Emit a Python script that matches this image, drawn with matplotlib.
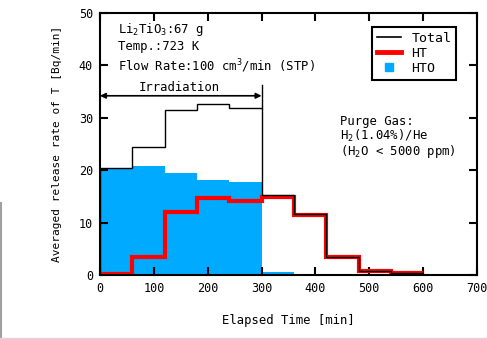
import matplotlib
matplotlib.use("Agg")
import matplotlib.pyplot as plt
from matplotlib.lines import Line2D
import numpy as np

# ---- data ----
edges = [0, 60, 120, 180, 240, 300, 360, 420, 480, 540, 600]
total = [20.5, 24.4, 31.4, 32.7, 31.9, 15.3, 11.6, 3.5, 0.8, 0.3]
ht = [0.1, 3.5, 12.1, 14.6, 14.2, 14.8, 11.5, 3.4, 0.8, 0.3]
hto = [20.35, 20.8, 19.4, 18.1, 17.7, 0.5, 0.0, 0.0, 0.0, 0.0]
xticks = [0, 100, 200, 300, 400, 500, 600, 700]
yticks = [0, 10, 20, 30, 40, 50]

FONT = "DejaVu Sans Mono"
plt.rcParams['font.family'] = [FONT]
plt.rcParams['mathtext.fontset'] = 'custom'
plt.rcParams['mathtext.rm'] = FONT

fig = plt.figure(figsize=(4.87, 3.39), dpi=100)
ax = fig.add_axes([0.2053, 0.1888, 0.7742, 0.7729])

ax.stairs(hto, edges, fill=True, color='#00aaff', linewidth=0, zorder=1)
ax.stairs(ht, edges, color='#ff0000', linewidth=3.0, baseline=None, zorder=2)
ax.stairs(total, edges, color='black', linewidth=1.0, baseline=0, zorder=3)

ax.set_xlim(0, 700)
ax.set_ylim(0, 50)
ax.set_xticks(xticks)
ax.set_yticks(yticks)
ax.tick_params(direction='in', length=6, width=1.5, top=True, right=True,
               labelsize=8.5, pad=5)
for s in ax.spines.values():
    s.set_linewidth(1.5)

ax.set_xlabel("Elapsed Time [min]", fontsize=8.8, labelpad=14)
ax.set_ylabel("Averaged release rate of T [Bq/min]", fontsize=8.0, labelpad=12)

fs = 8.8
ax.text(33, 46.9, r"Li$_2$TiO$_3$:67 g", fontsize=fs, va='center', ha='left')
ax.text(33, 43.6, "Temp.:723 K", fontsize=fs, va='center', ha='left')
ax.text(33, 39.8, r"Flow Rate:100 cm$^3$/min (STP)", fontsize=fs, va='center', ha='left')

ax.text(446, 26.2, "Purge Gas:\n" + r"H$_2$(1.04%)/He" + "\n" + r"(H$_2$O < 5000 ppm)",
        fontsize=fs, va='center', ha='left', linespacing=0.95)

# irradiation arrow
ax.annotate("", xy=(0, 34.2), xytext=(300, 34.2),
            arrowprops=dict(arrowstyle='<|-|>', color='black', lw=1.2,
                            mutation_scale=8, shrinkA=0, shrinkB=0))
ax.plot([300, 300], [31.9, 36.3], color='black', lw=1.0)
ax.text(148, 35.7, "Irradiation", fontsize=fs, va='center', ha='center')

handles = [Line2D([], [], color='black', lw=1.2),
           Line2D([], [], color='#ff0000', lw=3.5),
           Line2D([], [], color='#00aaff', marker='s', ls='none', markersize=6)]
leg = ax.legend(handles, ["Total", "HT", "HTO"], loc='upper right',
                bbox_to_anchor=(0.944, 0.945), fontsize=9.5, frameon=True,
                fancybox=False, edgecolor='black', framealpha=1,
                handlelength=1.8, handletextpad=0.8, borderpad=0.35,
                labelspacing=0.15, borderaxespad=0)
leg.get_frame().set_linewidth(1.5)

# faint border of the original screenshot
fig.add_artist(Line2D([0.002, 0.002], [0.0, 0.40], color='#a0a0a0', lw=1.5,
                      transform=fig.transFigure))
fig.add_artist(Line2D([0.0, 1.0], [0.004, 0.004], color='#d8d8d8', lw=1.0,
                      transform=fig.transFigure))

fig.savefig("out.png", dpi=100)
